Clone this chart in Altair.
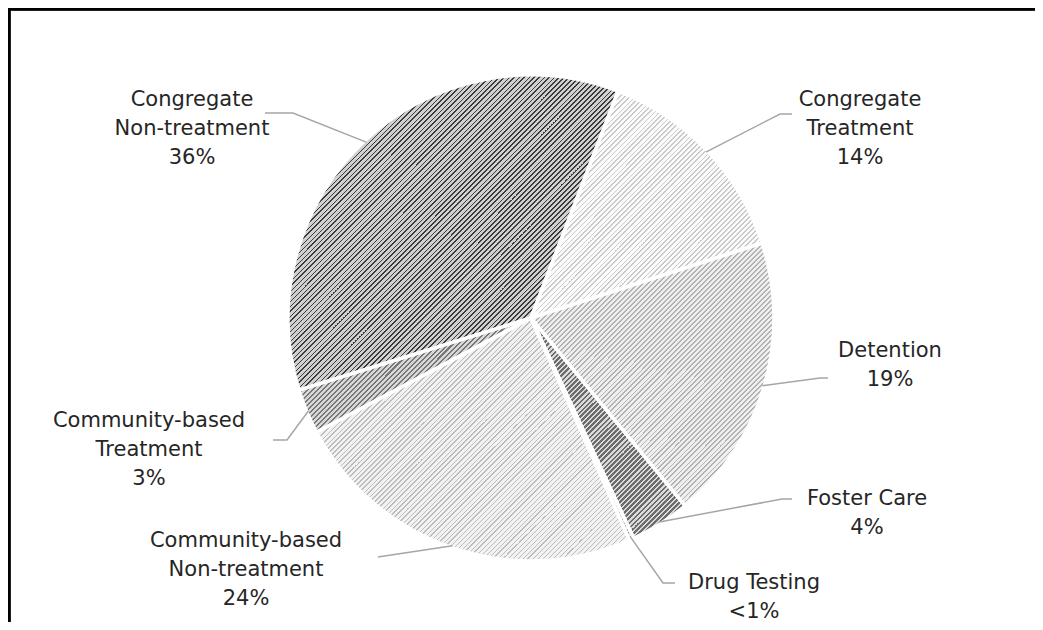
import math
import pandas as pd
import altair as alt

# ---------------- data ----------------
categories = [
    "Congregate Treatment",
    "Detention",
    "Foster Care",
    "Drug Testing",
    "Community-based Non-treatment",
    "Community-based Treatment",
    "Congregate Non-treatment",
]
shares = [14.2, 19.1, 4.0, 0.3, 23.9, 3.0, 35.7]
label_lines = [
    ["Congregate", "Treatment", "14%"],
    ["Detention", "19%"],
    ["Foster Care", "4%"],
    ["Drug Testing", "<1%"],
    ["Community-based", "Non-treatment", "24%"],
    ["Community-based", "Treatment", "3%"],
    ["Congregate", "Non-treatment", "36%"],
]

# ---------------- layout / style ----------------
W, H = 1027, 614
CX, CY, R = 523, 310, 243
START = math.radians(21)
FONT = "DejaVu Sans"
LINE_H = 29

# stripe colour, background colour, stripe fraction
styles = {
    "Congregate Treatment": ("#cacaca", "#fcfcfc", 0.35),
    "Detention": ("#b2b2b2", "#efefef", 0.38),
    "Foster Care": ("#6c6c6c", "#dadada", 0.42),
    "Drug Testing": ("#7a7a7a", "#dedede", 0.42),
    "Community-based Non-treatment": ("#bcbcbc", "#f2f2f2", 0.38),
    "Community-based Treatment": ("#777777", "#d8d8d8", 0.42),
    "Congregate Non-treatment": ("#3a3a3a", "#d0d0d0", 0.38),
}

# label centre, leader elbow, leader end (chart pixel space)
layout = {
    "Congregate Treatment": ((852, 120.5), (772, 106), (784, 106)),
    "Detention": ((882, 357.5), (812, 370), (820, 370)),
    "Foster Care": ((859, 505.5), (774, 491), (784, 491)),
    "Drug Testing": ((746, 589), (655, 575), (667, 575)),
    "Community-based Non-treatment": ((238, 561.5), (370, 549), (370, 549)),
    "Community-based Treatment": ((141, 441.5), (279, 432), (265, 432)),
    "Congregate Non-treatment": ((184, 120.5), (285, 105), (257, 105)),
}

total = sum(shares)
df = pd.DataFrame({"category": categories, "share": shares})
df["end"] = df["share"].cumsum()
df["start"] = df["end"] - df["share"]


def ang(v):
    return START + 2 * math.pi * v / total


def hatch(a0, a1, stripe, bg, frac, period=5.0):
    pts = [(0.0, 0.0),
           (R * math.sin(a0), -R * math.cos(a0)),
           (R * math.sin(a1), -R * math.cos(a1))]
    for k in range(0, 12):
        a = k * math.pi / 2
        if a0 <= a <= a1:
            pts.append((R * math.sin(a), -R * math.cos(a)))
    xs = [p[0] for p in pts]
    ys = [p[1] for p in pts]
    bx0, by0 = min(xs), min(ys)
    wb, hb = max(xs) - bx0, max(ys) - by0
    wb = max(wb, 1.0)
    hb = max(hb, 1.0)
    L = wb + hb
    g0 = (CX + bx0) + (CY + by0)
    kstart = math.floor(g0 / period) - 1
    kend = math.ceil((g0 + L) / period) + 1
    stops = []
    for k in range(kstart, kend):
        segs = [
            (k * period, k * period + frac * period, stripe),
            (k * period + frac * period, (k + 1) * period, bg),
        ]
        for s0, s1, col in segs:
            t0 = min(1.0, max(0.0, (s0 - g0) / L))
            t1 = min(1.0, max(0.0, (s1 - g0) / L))
            if t1 > t0:
                stops.append({"offset": round(t0, 6), "color": col})
                stops.append({"offset": round(t1, 6), "color": col})
    t = L / (wb * wb + hb * hb)
    return {"gradient": "linear", "x1": 0, "y1": 0,
            "x2": round(t * wb, 6), "y2": round(t * hb, 6), "stops": stops}


theta_scale = alt.Scale(domain=[0, total], range=[START, START + 2 * math.pi])

layers = []
for _, row in df.iterrows():
    a0, a1 = ang(row["start"]), ang(row["end"])
    stripe, bg, frac = styles[row["category"]]
    layers.append(
        alt.Chart(df)
        .transform_filter(alt.datum.category == row["category"])
        .mark_arc(fill=hatch(a0, a1, stripe, bg, frac), outerRadius=R)
        .encode(
            theta=alt.Theta("start:Q", scale=theta_scale),
            theta2="end:Q",
            x=alt.value(CX),
            y=alt.value(CY),
        )
    )

# white separators drawn on top of all slices
separators = alt.Chart(df).mark_arc(
    fillOpacity=0, stroke="white", strokeWidth=3.5, outerRadius=R
).encode(
    theta=alt.Theta("start:Q", scale=theta_scale),
    theta2="end:Q",
    x=alt.value(CX),
    y=alt.value(CY),
)

# leader lines
lead_rows = []
text_rows = []
for cat, lines in zip(categories, label_lines):
    r = df[df["category"] == cat].iloc[0]
    mid = ang((r["start"] + r["end"]) / 2)
    sx = CX + (R - 2) * math.sin(mid)
    sy = CY - (R - 2) * math.cos(mid)
    (lx, ly), elbow, end = layout[cat]
    for i, (px, py) in enumerate([(sx, sy), elbow, end]):
        lead_rows.append({"category": cat, "o": i, "px": px, "py": py})
    n = len(lines)
    for i, t in enumerate(lines):
        text_rows.append({"category": cat, "text": t, "px": lx,
                          "py": ly + (i - (n - 1) / 2) * LINE_H})

lead_df = pd.DataFrame(lead_rows)
text_df = pd.DataFrame(text_rows)

xs = alt.Scale(domain=[0, W], range=[0, W])
ys = alt.Scale(domain=[0, H], range=[0, H])

leaders = alt.Chart(lead_df).mark_line(color="#a6a6a6", strokeWidth=1.5).encode(
    x=alt.X("px:Q", scale=xs, axis=None),
    y=alt.Y("py:Q", scale=ys, axis=None),
    detail="category:N",
    order="o:Q",
)

labels = alt.Chart(text_df).mark_text(
    font=FONT, fontSize=21, color="#262626", align="center", baseline="middle"
).encode(
    x=alt.X("px:Q", scale=xs, axis=None),
    y=alt.Y("py:Q", scale=ys, axis=None),
    text="text:N",
)

frame_top = alt.Chart(df).mark_rule(color="black", strokeWidth=2.5).encode(
    x=alt.value(0), x2=alt.value(W), y=alt.value(1)
)
frame_left = alt.Chart(df).mark_rule(color="black", strokeWidth=2.5).encode(
    x=alt.value(1), y=alt.value(0), y2=alt.value(H)
)

chart = alt.layer(*layers, separators, leaders, labels, frame_top, frame_left).properties(
    width=W, height=H, autosize=alt.AutoSizeParams(type="none"), padding=0,
    background="white",
).configure_view(stroke=None)

chart.save("out.html", embed_options={"renderer": "svg", "actions": False})
